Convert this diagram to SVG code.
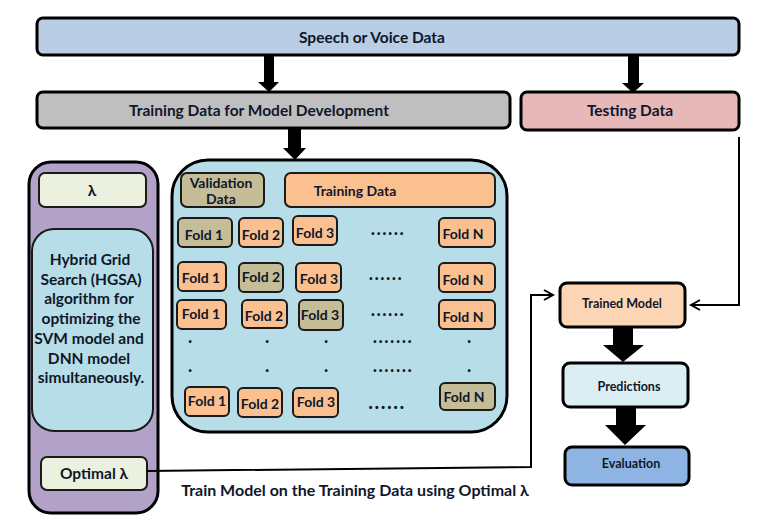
<svg xmlns="http://www.w3.org/2000/svg" width="763" height="518" viewBox="0 0 763 518">
<style>
.b{stroke:#000;stroke-width:3}
.f{stroke:#1a1a1a;stroke-width:2}
.t{font-family:Lato,"Liberation Sans",sans-serif;font-weight:bold;fill:#0f172a;text-anchor:middle;dominant-baseline:central}
.L{font-size:15.5px}
.M{font-size:14px}
.S{font-size:12.5px}
.org{fill:#fac090}
.tan{fill:#c4bd97}
.ln{fill:none;stroke:#000;stroke-width:2}
.dt{font-family:Lato,"Liberation Sans",sans-serif;font-weight:bold;font-size:18px;fill:#0f172a;text-anchor:middle;letter-spacing:1.5px}
</style>
<defs>
<marker id="open" markerWidth="12" markerHeight="12" refX="10" refY="6" orient="auto" markerUnits="userSpaceOnUse">
<path d="M1,1 L10,6 L1,11" fill="none" stroke="#000" stroke-width="2"/>
</marker>
</defs>
<rect width="763" height="518" fill="#fff"/>

<g id="speech"><rect class="b" x="37" y="18" width="702" height="37" rx="6" fill="#b9cde5"/><text class="t L" x="372" y="37">Speech or Voice Data</text></g>
<g id="training-dev"><rect class="b" x="37" y="92" width="473" height="36" rx="6" fill="#bfbfbf"/><text class="t L" x="259" y="110">Training Data for Model Development</text></g>
<g id="testing"><rect class="b" x="521" y="92" width="218" height="38" rx="6" fill="#e6b9b8"/><text class="t L" x="630" y="110">Testing Data</text></g>

<g id="hgsa-panel">
<rect class="b" x="29" y="162" width="129" height="351" rx="22" fill="#b3a2c7"/>
<g id="lambda"><rect class="f" x="39" y="173" width="107" height="34" rx="6" fill="#ebf1de"/><text class="t L" x="92" y="190">λ</text></g>
<g id="hgsa"><rect class="f" x="32" y="229" width="121" height="202" rx="22" fill="#b7dee8"/>
<text class="t L" x="90" y="259">Hybrid Grid</text>
<text class="t L" x="91" y="279">Search (HGSA)</text>
<text class="t L" x="89" y="298">algorithm for</text>
<text class="t L" x="91" y="318">optimizing the</text>
<text class="t L" x="89" y="338">SVM model and</text>
<text class="t L" x="89" y="358">DNN model</text>
<text class="t L" x="91" y="377">simultaneously.</text>
</g>
<g id="optimal-lambda"><rect class="f" x="41" y="457" width="106" height="33" rx="6" fill="#ebf1de"/><text class="t L" x="94" y="473">Optimal λ</text></g>
</g>

<g id="cv-container">
<rect class="b" x="172" y="160" width="335" height="272" rx="36" fill="#b7dee8"/>
<g id="validation"><rect class="f tan" x="181" y="173" width="83" height="34" rx="6"/><text class="t M" x="221" y="182">Validation</text><text class="t M" x="221" y="198">Data</text></g>
<g id="training-data"><rect class="f org" x="285" y="173" width="210" height="34" rx="6"/><text class="t M" x="355" y="190">Training Data</text></g>

<g id="row1">
<rect class="f tan" x="178" y="218" width="54" height="29" rx="5"/><text class="t M" x="204" y="234">Fold 1</text>
<rect class="f org" x="239" y="218" width="44" height="29" rx="5"/><text class="t M" x="261" y="234">Fold 2</text>
<rect class="f org" x="293" y="216" width="44" height="29" rx="5"/><text class="t M" x="315" y="232">Fold 3</text>
<text class="dt" x="388" y="235">......</text>
<rect class="f org" x="439" y="218" width="56" height="29" rx="5"/><text class="t M" x="463" y="233">Fold N</text>
</g>
<g id="row2">
<rect class="f org" x="178" y="262" width="48" height="29" rx="5"/><text class="t M" x="201" y="277">Fold 1</text>
<rect class="f tan" x="239" y="263" width="44" height="29" rx="5"/><text class="t M" x="261" y="276">Fold 2</text>
<rect class="f org" x="296" y="263" width="45" height="29" rx="5"/><text class="t M" x="319" y="278">Fold 3</text>
<text class="dt" x="386" y="280">......</text>
<rect class="f org" x="439" y="263" width="56" height="29" rx="5"/><text class="t M" x="463" y="279">Fold N</text>
</g>
<g id="row3">
<rect class="f org" x="177" y="300" width="49" height="29" rx="5"/><text class="t M" x="201" y="313">Fold 1</text>
<rect class="f org" x="242" y="300" width="45" height="28" rx="5"/><text class="t M" x="264" y="315">Fold 2</text>
<rect class="f tan" x="299" y="300" width="44" height="30" rx="5"/><text class="t M" x="320" y="314">Fold 3</text>
<text class="dt" x="388" y="316">......</text>
<rect class="f org" x="439" y="300" width="56" height="29" rx="5"/><text class="t M" x="463" y="316">Fold N</text>
</g>
<g id="row-dots">
<text class="dt" x="191" y="343">.</text><text class="dt" x="268" y="343">.</text><text class="dt" x="327" y="343">.</text><text class="dt" x="393" y="343">.......</text><text class="dt" x="470" y="343">.</text>
<text class="dt" x="191" y="372">.</text><text class="dt" x="268" y="372">.</text><text class="dt" x="327" y="372">.</text><text class="dt" x="393" y="372">.......</text><text class="dt" x="470" y="372">.</text>
</g>
<g id="row-last">
<rect class="f org" x="185" y="387" width="44" height="29" rx="5"/><text class="t M" x="207" y="400">Fold 1</text>
<rect class="f org" x="238" y="388" width="44" height="29" rx="5"/><text class="t M" x="260" y="403">Fold 2</text>
<rect class="f org" x="293" y="388" width="45" height="29" rx="5"/><text class="t M" x="316" y="401">Fold 3</text>
<text class="dt" x="387" y="409" style="font-size:20px">......</text>
<rect class="f tan" x="440" y="383" width="55" height="27" rx="5"/><text class="t M" x="464" y="396">Fold N</text>
</g>
</g>

<g id="trained-model"><rect class="b" x="560" y="283" width="125" height="44" rx="7" fill="#fcd5b5"/><text class="t S" x="622" y="303">Trained Model</text></g>
<g id="predictions"><rect class="b" x="563" y="363" width="125" height="44" rx="7" fill="#dbeef4"/><text class="t S" x="629" y="386">Predictions</text></g>
<g id="evaluation"><rect class="b" x="565" y="447" width="124" height="38" rx="7" fill="#8eb4e3"/><text class="t S" x="631" y="463">Evaluation</text></g>

<g id="connectors">
<polygon points="264,55 274,55 274,82 279,82 269,92 258,82 264,82" fill="#000"/>
<polygon points="628,55 639,55 639,83 644,83 633,93 622,83 628,83" fill="#000"/>
<polygon points="288,129 301,129 301,148 306,148 295,160 283,148 288,148" fill="#000"/>
<polygon points="613,327 633,327 633,345 644,345 623,362 603,345 613,345" fill="#000"/>
<polygon points="616,407 636,407 636,425 646,425 625,445 605,425 616,425" fill="#000"/>
<polyline class="ln" points="739,137 739,305 691,305" marker-end="url(#open)"/>
<polyline class="ln" points="147,471 531,467 531,295 553,295" marker-end="url(#open)"/>
<text class="t" x="355" y="489" style="font-size:16px">Train Model on the Training Data using Optimal λ</text>
</g>
</svg>
